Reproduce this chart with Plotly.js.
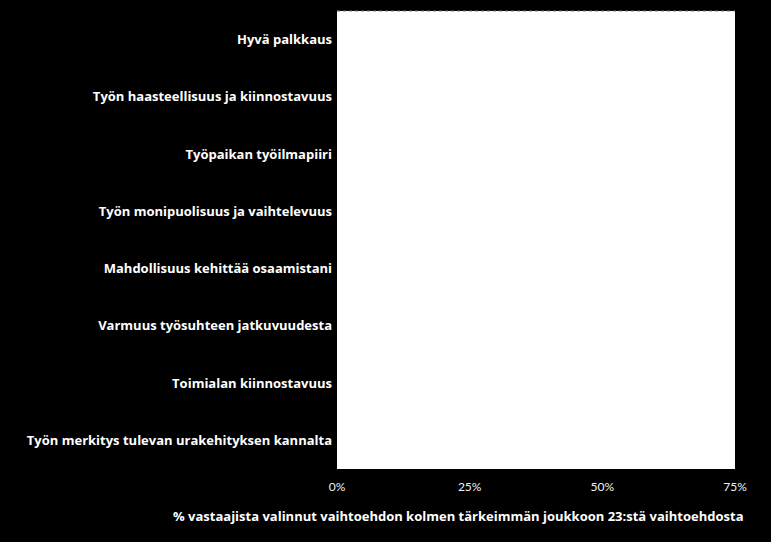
<!DOCTYPE html>
<html>
<head>
<meta charset="utf-8">
<script src="https://cdn.plot.ly/plotly-3.0.1.min.js"></script>
<style>html,body{margin:0;padding:0;background:#000;}#chart{width:771px;height:542px;}</style>
</head>
<body>
<div id="chart"></div>
<script>
// Categories (top to bottom)
var categories = [
  "Hyvä palkkaus",
  "Työn haasteellisuus ja kiinnostavuus",
  "Työpaikan työilmapiiri",
  "Työn monipuolisuus ja vaihtelevuus",
  "Mahdollisuus kehittää osaamistani",
  "Varmuus työsuhteen jatkuvuudesta",
  "Toimialan kiinnostavuus",
  "Työn merkitys tulevan urakehityksen kannalta"
];
// Bars are drawn in white on the white plot area in the reference, so they are not visible;
// values cannot be read from the picture and are left at zero.
var values = [0, 0, 0, 0, 0, 0, 0, 0];
var tickVals = [0, 0.25, 0.5, 0.75];
var tickText = ["0%", "25%", "50%", "75%"];
var axisTitle = "% vastaajista valinnut vaihtoehdon kolmen tärkeimmän joukkoon 23:stä vaihtoehdosta";

var trace = {
  type: "bar",
  orientation: "h",
  y: categories,
  x: values,
  marker: {color: "#ffffff"},
  hoverinfo: "none"
};

var layout = {
  width: 771,
  height: 542,
  paper_bgcolor: "#000000",
  plot_bgcolor: "#ffffff",
  margin: {l: 337, r: 36, t: 11, b: 73, pad: 0},
  showlegend: false,
  font: {family: "'Open Sans', sans-serif", color: "#ffffff"},
  xaxis: {
    range: [0, 0.75],
    tickvals: tickVals,
    ticktext: tickText,
    showgrid: false,
    zeroline: false,
    showline: false,
    ticks: "outside",
    ticklen: 7,
    tickcolor: "rgba(0,0,0,0)",
    tickfont: {family: "Lato, sans-serif", size: 12, color: "#f2f2f2"},
    fixedrange: true
  },
  yaxis: {
    type: "category",
    autorange: "reversed",
    showgrid: false,
    zeroline: false,
    showline: false,
    ticks: "",
    ticklabelstandoff: 4,
    tickfont: {family: "'Open Sans', sans-serif", size: 13, color: "#ffffff", weight: "bold"},
    fixedrange: true
  },
  shapes: [{
    type: "line", xref: "paper", yref: "paper",
    x0: 0, x1: 1, y0: 1, y1: 1,
    line: {color: "#808080", width: 1, dash: "dot"}
  }],
  annotations: [{
    xref: "paper", yref: "paper",
    x: 1.027, y: -0.103,
    xanchor: "right", yanchor: "middle",
    showarrow: false,
    text: axisTitle,
    font: {family: "'Open Sans', sans-serif", size: 13, color: "#ffffff", weight: "bold"}
  }]
};

Plotly.newPlot("chart", [trace], layout, {displayModeBar: false, staticPlot: true});
</script>
</body>
</html>
